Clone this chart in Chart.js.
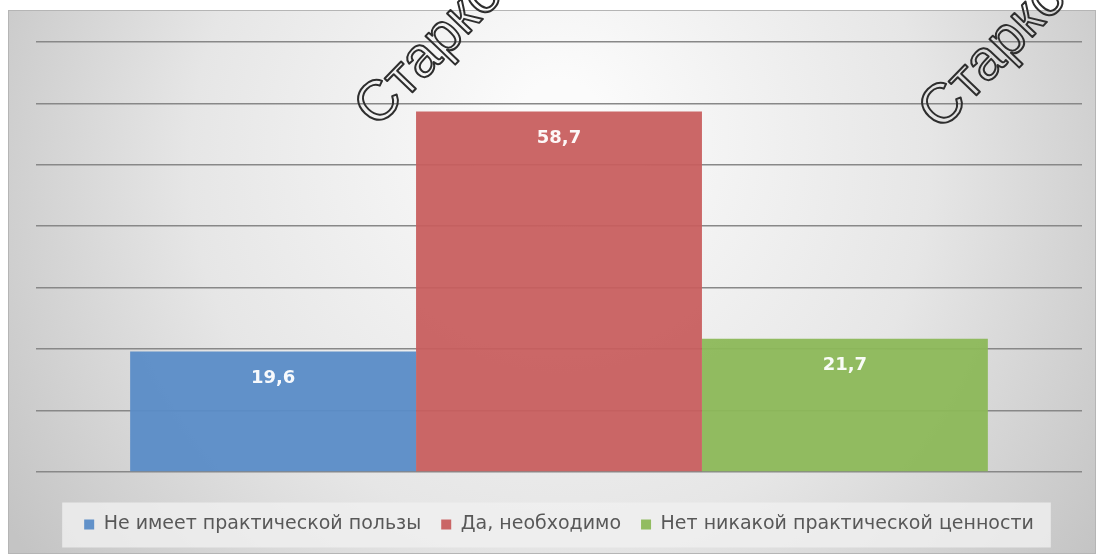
<!DOCTYPE html>
<html>
<head>
<meta charset="utf-8">
<script src="https://cdn.jsdelivr.net/npm/chart.js@4"></script>
<style>
  html, body { margin: 0; padding: 0; background: #ffffff; }
  #wrap { position: absolute; left: 0; top: 0; width: 1100px; height: 557px; }
</style>
</head>
<body>
<div id="wrap"><canvas id="chart"></canvas></div>
<script>
const categories = [""];
const seriesNames = [
  "Не имеет практической пользы",
  "Да, необходимо",
  "Нет никакой практической ценности"
];
const seriesValues = [19.6, 58.7, 21.7];
const seriesColors = ["rgba(90,140,199,0.95)", "rgba(200,94,94,0.94)", "rgba(140,184,88,0.95)"];
const yTicks = [0, 10, 20, 30, 40, 50, 60, 70];
const stampText = "Старко";

// gray panel with a light centre, framed by a thin border
const panelBg = {
  id: "panelBg",
  beforeDraw(chart) {
    const ctx = chart.ctx;
    ctx.save();
    const g = ctx.createRadialGradient(560, 120, 40, 560, 200, 640);
    g.addColorStop(0, "#fbfbfb");
    g.addColorStop(0.55, "#e6e6e6");
    g.addColorStop(1, "#c4c4c4");
    ctx.fillStyle = g;
    ctx.fillRect(8, 10, 1088, 544);
    ctx.strokeStyle = "#b5b5b5";
    ctx.lineWidth = 1;
    ctx.strokeRect(8.5, 10.5, 1087, 543);

    // lighter strip behind the legend items
    const boxes = chart.legend.legendHitBoxes;
    if (boxes && boxes.length) {
      const first = boxes[0];
      const last = boxes[boxes.length - 1];
      const cy = first.top + first.height / 2;
      ctx.fillStyle = "rgba(240,240,240,0.8)";
      ctx.fillRect(first.left - 22, cy - 22, last.left + last.width - first.left + 39, 45);
    }
    ctx.restore();
  }
};

// white value labels inside the top of each bar, comma decimals
const valueLabels = {
  id: "valueLabels",
  afterDatasetsDraw(chart) {
    const ctx = chart.ctx;
    ctx.save();
    ctx.fillStyle = "rgba(255,255,255,0.95)";
    ctx.font = "bold 18px 'DejaVu Sans', sans-serif";
    ctx.textAlign = "center";
    ctx.textBaseline = "middle";
    chart.data.datasets.forEach((ds, i) => {
      const bar = chart.getDatasetMeta(i).data[0];
      ctx.fillText(String(ds.data[0]).replace(".", ","), bar.x, bar.y + 27);
    });
    ctx.restore();
  }
};

// outlined diagonal stamp text over the panel
const stamp = {
  id: "stamp",
  afterDraw(chart) {
    const ctx = chart.ctx;
    ctx.save();
    ctx.font = "56px 'Liberation Sans', Arial, sans-serif";
    ctx.strokeStyle = "#2e2e2e";
    ctx.lineWidth = 2;
    ctx.lineJoin = "round";
    [[366, 118], [930, 121]].forEach(p => {
      ctx.save();
      ctx.translate(p[0], p[1]);
      ctx.rotate(-46 * Math.PI / 180);
      ctx.strokeText(stampText, 0, 0);
      ctx.restore();
    });
    ctx.restore();
  }
};

const datasets = seriesNames.map((name, i) => ({
  label: name,
  data: [seriesValues[i]],
  backgroundColor: seriesColors[i],
  borderWidth: 0,
  barPercentage: 1,
  categoryPercentage: 0.82
}));

new Chart(document.getElementById("chart"), {
  type: "bar",
  data: { labels: categories, datasets: datasets },
  options: {
    responsive: true,
    maintainAspectRatio: false,
    animation: false,
    layout: { padding: { top: 42, left: 36, right: 18, bottom: 13 } },
    plugins: {
      tooltip: { enabled: false },
      legend: {
        position: "bottom",
        labels: {
          boxWidth: 10,
          boxHeight: 10,
          padding: 20,
          color: "#585858",
          font: { family: "'DejaVu Sans', sans-serif", size: 19 }
        }
      }
    },
    scales: {
      x: {
        grid: { display: false },
        border: { display: false },
        ticks: { display: false },
        afterFit(axis) { axis.height = 23; }
      },
      y: {
        min: yTicks[0],
        max: yTicks[yTicks.length - 1],
        afterBuildTicks(axis) { axis.ticks = yTicks.map(v => ({ value: v })); },
        ticks: { display: false },
        border: { display: false },
        grid: { color: "#888888", lineWidth: 1.6, drawTicks: false }
      }
    }
  },
  plugins: [panelBg, valueLabels, stamp]
});
</script>
</body>
</html>
